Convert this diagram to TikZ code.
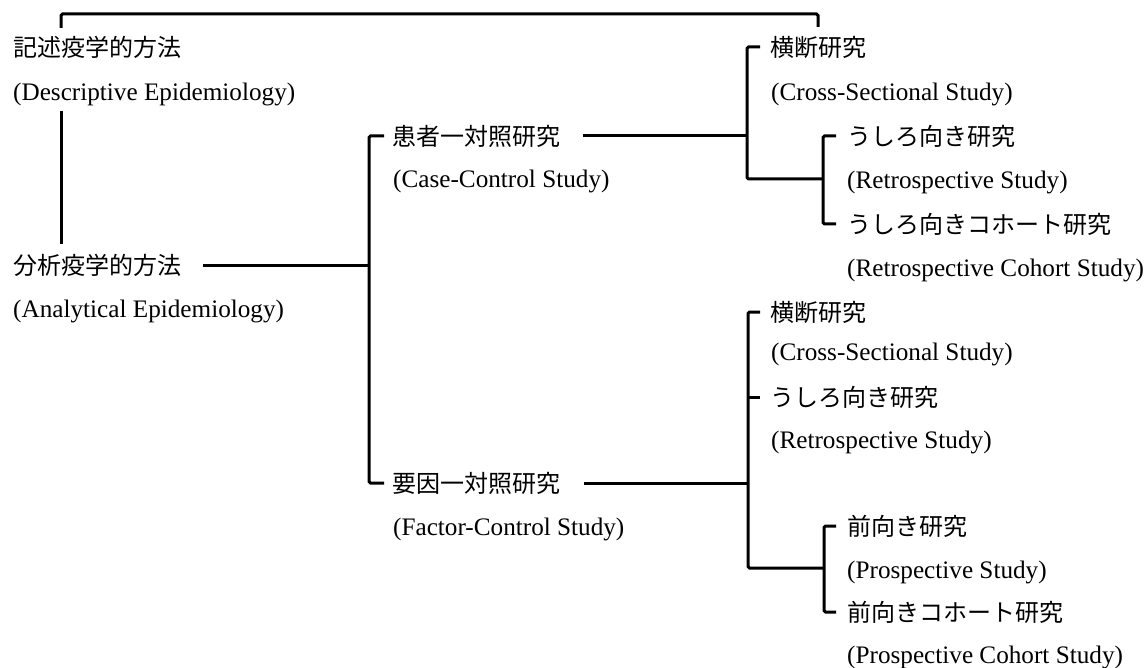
\documentclass[tikz,border=0pt]{standalone}
\usepackage{fontspec}
\setmainfont{Liberation Serif}
\newfontfamily\cjk{Noto Sans CJK JP}
\begin{document}
\begin{tikzpicture}[x=1pt,y=-1pt,
  jp/.style={anchor=west,inner sep=0pt,font=\cjk\fontsize{24}{26}\selectfont},
  en/.style={anchor=west,inner sep=0pt,yshift=-2pt,font=\fontsize{25.2}{27}\selectfont},
  ln/.style={line width=3pt,line cap=butt,rounded corners=1.5pt}]
\useasboundingbox (0,0) rectangle (1147,668);
% text nodes
\node[jp] (d1) at (13,47) {記述疫学的方法};
\node[en] (d2) at (13,92) {(Descriptive Epidemiology)};
\node[jp] (a1) at (13,265) {分析疫学的方法};
\node[en] (a2) at (13,309) {(Analytical Epidemiology)};
\node[jp] (cc1) at (392,136) {患者一対照研究};
\node[en] (cc2) at (393,179) {(Case-Control Study)};
\node[jp] (fc1) at (392,483) {要因一対照研究};
\node[en] (fc2) at (393,527) {(Factor-Control Study)};
\node[jp] (u1) at (770,47) {横断研究};
\node[en] (u2) at (771,92) {(Cross-Sectional Study)};
\node[jp] (r1) at (847,136) {うしろ向き研究};
\node[en] (r2) at (847,180) {(Retrospective Study)};
\node[jp] (rc1) at (847,224) {うしろ向きコホート研究};
\node[en] (rc2) at (847,268) {(Retrospective Cohort Study)};
\node[jp] (l1) at (770,312) {横断研究};
\node[en] (l2) at (771,352) {(Cross-Sectional Study)};
\node[jp] (l3) at (770,397) {うしろ向き研究};
\node[en] (l4) at (771,440) {(Retrospective Study)};
\node[jp] (p1) at (847,526) {前向き研究};
\node[en] (p2) at (847,570) {(Prospective Study)};
\node[jp] (pc1) at (847,612) {前向きコホート研究};
\node[en] (pc2) at (847,655) {(Prospective Cohort Study)};
% junction coordinates
\coordinate (tl) at (61,28);
\coordinate (tr) at (818,27);
\coordinate (s1t) at (369,136);
\coordinate (s1b) at (369,483);
\coordinate (s2t) at (747,47);
\coordinate (s2b) at (747,179);
\coordinate (s3t) at (823,136);
\coordinate (s3b) at (823,224);
\coordinate (s4t) at (748,312);
\coordinate (s4b) at (748,568);
\coordinate (s5t) at (824,526);
\coordinate (s5b) at (824,612);
% connectors
\draw[ln] (tl) -- (61,14) -- (818,14) -- (tr);
\draw[ln] (61,111) -- (61,244);
\draw[ln] (203,265) -- (s1t |- a1);
\draw[ln] ([xshift=-8pt]cc1.west) -- (s1t) -- (s1b) -- ([xshift=-8pt]fc1.west);
\draw[ln] (583,136) -- (s2t |- cc1);
\draw[ln] ([xshift=-10pt]u1.west) -- (s2t) -- (s2b) -- (s3b |- s2b);
\draw[ln] ([xshift=-11pt]r1.west) -- (s3t) -- (s3b) -- ([xshift=-11pt]rc1.west);
\draw[ln] (584,483) -- (s4t |- fc1);
\draw[ln] ([xshift=-10pt]l1.west) -- (s4t) -- (s4b) -- (s5b |- s4b);
\draw[ln] (s4t |- l3) -- ([xshift=-10pt]l3.west);
\draw[ln] ([xshift=-11pt]p1.west) -- (s5t) -- (s5b) -- ([xshift=-11pt]pc1.west);
\end{tikzpicture}
\end{document}
